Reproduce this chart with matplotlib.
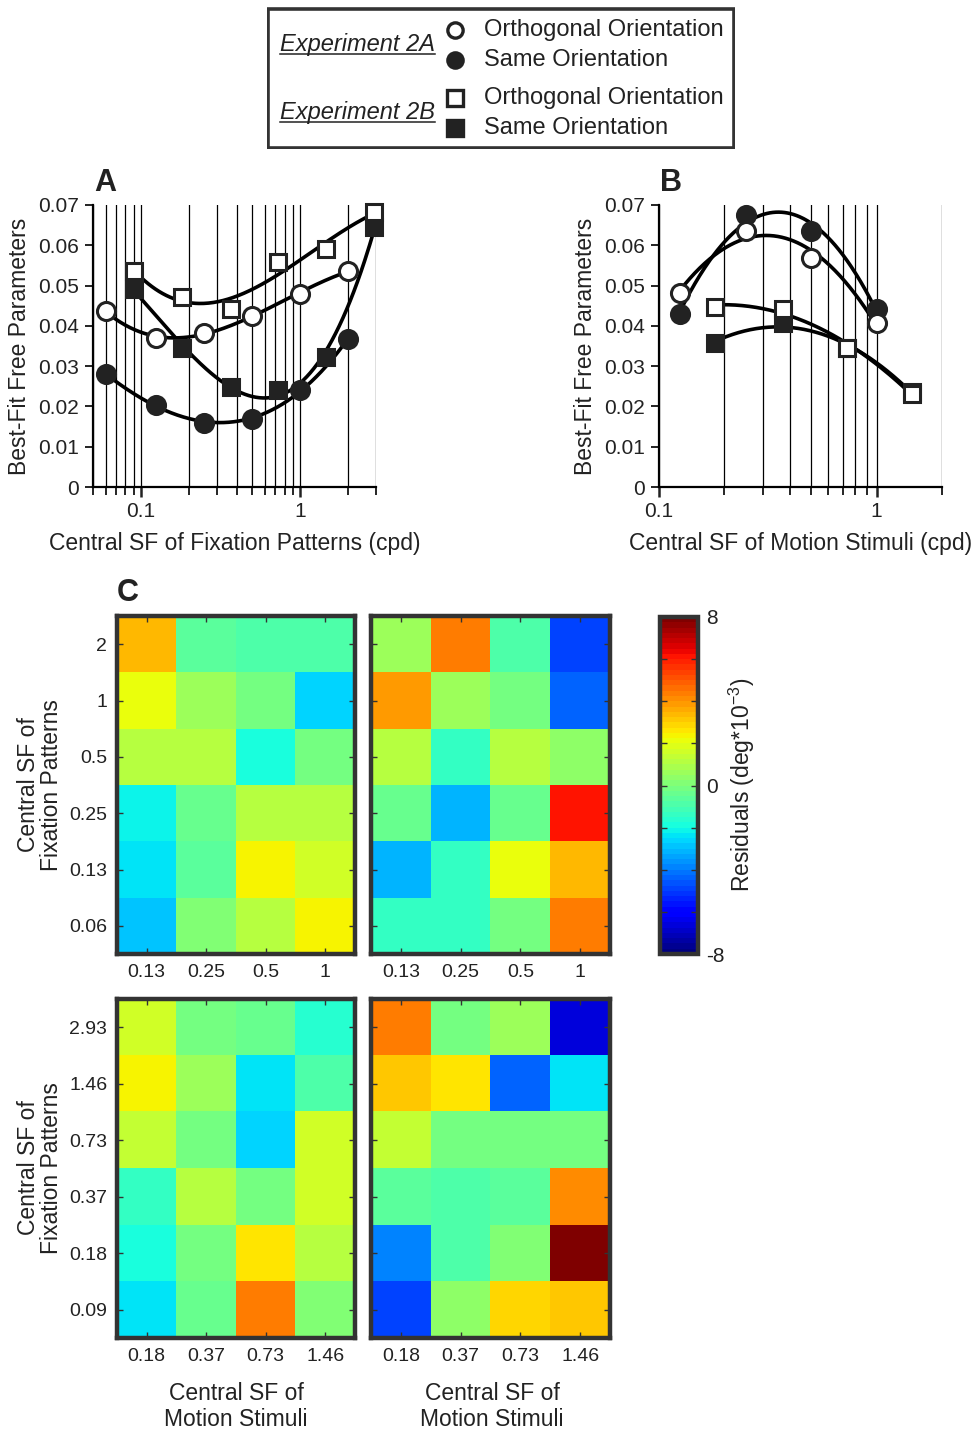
import numpy as np
import matplotlib
matplotlib.use('Agg')
import matplotlib.pyplot as plt
from matplotlib.patches import Rectangle
from matplotlib.ticker import FixedLocator, LogLocator, NullFormatter

plt.rcParams['font.family'] = ['Liberation Sans', 'DejaVu Sans']
plt.rcParams['mathtext.fontset'] = 'custom'
plt.rcParams['mathtext.rm'] = 'Liberation Sans'

INK = '#222222'
FRAME = '#333333'

# panel A - x is central SF of fixation patterns
fix_2a = [0.06, 0.125, 0.25, 0.5, 1, 2]
fix_2b = [0.09, 0.18, 0.37, 0.73, 1.46, 2.93]
a_orth_2a = [0.0437, 0.0370, 0.0383, 0.0425, 0.0480, 0.0536]
a_same_2a = [0.0280, 0.0204, 0.0160, 0.0169, 0.0241, 0.0367]
a_orth_2b = [0.0537, 0.0472, 0.0443, 0.0558, 0.0591, 0.0683]
a_same_2b = [0.0492, 0.0344, 0.0249, 0.0241, 0.0323, 0.0645]

# panel B - x is central SF of motion stimuli
mot_2a = [0.125, 0.25, 0.5, 1]
mot_2b = [0.18, 0.37, 0.73, 1.46]
b_orth_2a = [0.0482, 0.0636, 0.0568, 0.0407]
b_same_2a = [0.0430, 0.0674, 0.0636, 0.0443]
b_orth_2b = [0.0448, 0.0443, 0.0344, 0.0232]
b_same_2b = [0.0358, 0.0406, 0.0345, 0.0235]

# panel C - residuals (deg*10^-3), rows listed top to bottom
hm_2a_cols = ['0.13', '0.25', '0.5', '1']
hm_2a_rows = ['2', '1', '0.5', '0.25', '0.13', '0.06']
hm_2b_cols = ['0.18', '0.37', '0.73', '1.46']
hm_2b_rows = ['2.93', '1.46', '0.73', '0.37', '0.18', '0.09']

res_2a_left = [[3.3, -0.6, -0.9, -0.9],
               [2.0, 0.7, -0.1, -2.6],
               [1.2, 1.2, -2.0, -0.1],
               [-2.1, -0.3, 1.2, 1.2],
               [-2.5, -0.7, 2.4, 1.5],
               [-3.0, 0.0, 1.2, 2.3]]
res_2a_right = [[0.5, 4.4, -0.9, -4.9],
                [3.9, 0.7, -0.1, -4.3],
                [1.2, -1.5, 1.2, 0.4],
                [-0.3, -3.2, -0.3, 6.0],
                [-3.2, -1.4, 2.0, 3.3],
                [-1.5, -1.5, -0.1, 4.4]]
res_2b_left = [[1.6, -0.1, -0.3, -1.7],
               [2.4, 0.7, -2.5, -0.9],
               [1.3, -0.1, -2.6, 1.5],
               [-1.4, 1.2, -0.1, 1.5],
               [-2.0, -0.1, 2.6, 1.2],
               [-2.5, -0.5, 4.4, 0.2]]
res_2b_right = [[4.4, -0.1, 0.7, -6.6],
                [3.0, 2.7, -4.3, -2.3],
                [1.3, -0.1, -0.1, -0.1],
                [-0.7, -1.0, -0.7, 4.1],
                [-4.0, -0.9, 0.2, 7.8],
                [-4.8, 0.4, 2.8, 3.0]]

W, H = 979, 1434
fig = plt.figure(figsize=(W / 100, H / 100), dpi=100)


def box(x0, y0, x1, y1):
    # pixel box (from top-left) -> figure fraction rect
    return [x0 / W, 1 - y1 / H, (x1 - x0) / W, (y1 - y0) / H]


def fit_curve(ax, xs, ys, deg):
    lx = np.log10(xs)
    c = np.polyfit(lx, ys, deg)
    xx = np.linspace(lx.min(), lx.max(), 200)
    ax.plot(10 ** xx, np.polyval(c, xx), color='k', lw=2.6, zorder=3,
            clip_on=False)


def markers(ax, xs, ys, shape, filled):
    ms = 13 if shape == 'o' else 12
    ax.plot(xs, ys, ls='none', marker=shape, ms=ms, mew=2.2,
            mfc=INK if filled else 'white', mec=INK, zorder=4, clip_on=False)


def setup_line_ax(ax, xlim, letter):
    ax.set_xscale('log')
    ax.set_xlim(*xlim)
    ax.set_ylim(0, 0.07)
    ax.xaxis.set_major_locator(FixedLocator([0.1, 1]))
    ax.set_xticklabels(['0.1', '1'])
    ax.xaxis.set_minor_locator(LogLocator(base=10, subs=np.arange(2, 10)))
    ax.xaxis.set_minor_formatter(NullFormatter())
    ax.grid(True, which='both', axis='x', color='k', lw=0.9)
    ax.set_axisbelow(True)
    yt = [0, 0.01, 0.02, 0.03, 0.04, 0.05, 0.06, 0.07]
    ax.set_yticks(yt)
    ax.set_yticklabels(['0'] + ['%.2f' % v for v in yt[1:]])
    for s in ['top', 'right']:
        ax.spines[s].set_visible(False)
    for s in ['left', 'bottom']:
        ax.spines[s].set_linewidth(1.6)
        ax.spines[s].set_color('k')
    ax.tick_params(which='major', length=7, width=1.8, labelsize=15,
                   colors=INK, pad=4)
    ax.tick_params(which='minor', length=6, width=1.2, color='k')
    ax.tick_params(axis='y', length=6, width=1.4)
    ax.set_ylabel('Best-Fit Free Parameters', fontsize=16.5, color=INK,
                  labelpad=5)
    ax.text(0.005, 1.025, letter, transform=ax.transAxes, fontsize=22,
            fontweight='bold', color=INK, ha='left', va='bottom')


# legend box
lg = fig.add_axes(box(267, 7, 735, 149))
lg.set_xlim(0, 468)
lg.set_ylim(142, 0)
lg.axis('off')
lg.add_patch(Rectangle((1.5, 1.5), 465, 139, fill=False, lw=2.6,
                       ec=FRAME))
for ty, name in [(37, 'Experiment 2A'), (105, 'Experiment 2B')]:
    lg.text(13, ty, name, style='italic', fontsize=17, color=INK,
            va='center', ha='left')
    lg.plot([13, 168], [ty + 10, ty + 10], color=INK, lw=1.1)
leg_rows = [(23, 'o', False), (53, 'o', True), (91, 's', False), (121, 's', True)]
leg_text = ['Orthogonal Orientation', 'Same Orientation',
            'Orthogonal Orientation', 'Same Orientation']
for (ry, shp, fil), t in zip(leg_rows, leg_text):
    lg.plot([188], [ry], ls='none', marker=shp, ms=11 if shp == 'o' else 12,
            mew=2.4, mfc=INK if fil else 'white', mec=INK)
    lg.text(217, ry, t, fontsize=17, color=INK, va='center', ha='left')

# panel A
axA = fig.add_axes(box(93, 205, 376, 487))
setup_line_ax(axA, (0.05, 3), 'A')
seriesA = [(fix_2a, a_same_2a, 'o', True),
           (fix_2a, a_orth_2a, 'o', False),
           (fix_2b, a_same_2b, 's', True),
           (fix_2b, a_orth_2b, 's', False)]
for xs, ys, shp, fil in seriesA:
    fit_curve(axA, xs, ys, 3)
for xs, ys, shp, fil in seriesA:
    markers(axA, xs, ys, shp, fil)
axA.set_xlabel('Central SF of Fixation Patterns (cpd)', fontsize=16.5,
               color=INK, labelpad=8)

# panel B
axB = fig.add_axes(box(659, 205, 942, 487))
setup_line_ax(axB, (0.1, 2), 'B')
seriesB = [(mot_2a, b_same_2a, 'o', True),
           (mot_2a, b_orth_2a, 'o', False),
           (mot_2b, b_same_2b, 's', True),
           (mot_2b, b_orth_2b, 's', False)]
for xs, ys, shp, fil in seriesB:
    fit_curve(axB, xs, ys, 2)
for xs, ys, shp, fil in seriesB:
    markers(axB, xs, ys, shp, fil)
axB.set_xlabel('Central SF of Motion Stimuli (cpd)', fontsize=16.5,
               color=INK, labelpad=8)

# panel C heatmaps
jet = plt.get_cmap('jet', 64)
heat = [((117, 616, 355, 954), res_2a_left, hm_2a_cols, hm_2a_rows, True),
        ((371, 616, 610, 954), res_2a_right, hm_2a_cols, hm_2a_rows, False),
        ((117, 999, 355, 1338), res_2b_left, hm_2b_cols, hm_2b_rows, True),
        ((371, 999, 610, 1338), res_2b_right, hm_2b_cols, hm_2b_rows, False)]
im = None
heat_axes = []
for rect, data, cols, rows, show_y in heat:
    ax = fig.add_axes(box(*rect))
    im = ax.imshow(np.array(data), cmap=jet, vmin=-8, vmax=8, aspect='auto',
                   interpolation='nearest')
    ax.set_xticks(range(len(cols)))
    ax.set_xticklabels(cols)
    ax.set_yticks(range(len(rows)))
    ax.set_yticklabels(rows if show_y else [])
    ax.tick_params(direction='in', top=True, right=True, length=4, width=1,
                   color=FRAME, labelsize=14, labelcolor=INK, pad=7)
    for s in ax.spines.values():
        s.set_linewidth(3.2)
        s.set_color(FRAME)
    heat_axes.append(ax)

heat_axes[0].text(0.0, 1.025, 'C', transform=heat_axes[0].transAxes,
                  fontsize=22, fontweight='bold', color=INK, ha='left',
                  va='bottom')

for yc in [785, 1168]:
    fig.text(40 / W, 1 - yc / H, 'Central SF of\nFixation Patterns',
             rotation=90, fontsize=16.5, color=INK, ha='center', va='center',
             multialignment='center', linespacing=1.0)
for xc in [236, 492]:
    fig.text(xc / W, 1 - 1382 / H, 'Central SF of\nMotion Stimuli',
             fontsize=16.5, color=INK, ha='center', va='top',
             multialignment='center', linespacing=1.15)

# colorbar
cax = fig.add_axes(box(660, 617, 698, 954))
cb = fig.colorbar(im, cax=cax, ticks=np.arange(-8, 9, 2))
cb.ax.set_yticklabels(['-8', '', '', '', '0', '', '', '', '8'])
cb.ax.tick_params(direction='in', left=True, right=True, length=5, width=1,
                  color=FRAME, labelsize=15, labelcolor=INK, pad=6)
cb.outline.set_linewidth(3.2)
cb.outline.set_edgecolor(FRAME)
fig.text(742 / W, 1 - 785 / H, r'Residuals (deg*10$^{\mathrm{-3}}$)',
         rotation=90, fontsize=16.5, color=INK, ha='center', va='center')

fig.savefig('out.png', dpi=100)
